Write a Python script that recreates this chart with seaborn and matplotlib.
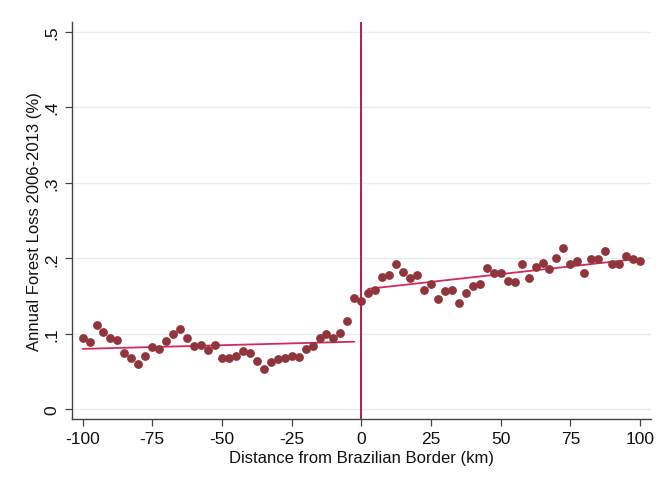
import numpy as np
import pandas as pd
import seaborn as sns
import matplotlib
matplotlib.use("Agg")
import matplotlib.pyplot as plt

# Binned mean forest loss by distance to the border (2.5 km bins)
dist_left = [-100, -97.5, -95, -92.5, -90, -87.5, -85, -82.5, -80, -77.5,
             -75, -72.5, -70, -67.5, -65, -62.5, -60, -57.5, -55, -52.5,
             -50, -47.5, -45, -42.5, -40, -37.5, -35, -32.5, -30, -27.5,
             -25, -22.5, -20, -17.5, -15, -12.5, -10, -7.5, -5, -2.5]
loss_left = [0.094, 0.089, 0.111, 0.103, 0.094, 0.092, 0.074, 0.068, 0.060, 0.071,
             0.083, 0.080, 0.091, 0.100, 0.106, 0.094, 0.084, 0.085, 0.079, 0.085,
             0.068, 0.068, 0.070, 0.077, 0.075, 0.064, 0.053, 0.063, 0.066, 0.068,
             0.070, 0.069, 0.080, 0.084, 0.094, 0.100, 0.095, 0.101, 0.117, 0.148]

dist_right = [0, 2.5, 5, 7.5, 10, 12.5, 15, 17.5, 20, 22.5,
              25, 27.5, 30, 32.5, 35, 37.5, 40, 42.5, 45, 47.5,
              50, 52.5, 55, 57.5, 60, 62.5, 65, 67.5, 70, 72.5,
              75, 77.5, 80, 82.5, 85, 87.5, 90, 92.5, 95, 97.5, 100]
loss_right = [0.143, 0.154, 0.158, 0.175, 0.178, 0.193, 0.182, 0.174, 0.178, 0.158,
              0.166, 0.146, 0.157, 0.158, 0.141, 0.154, 0.163, 0.166, 0.187, 0.181,
              0.180, 0.170, 0.168, 0.192, 0.174, 0.188, 0.194, 0.186, 0.201, 0.213,
              0.192, 0.197, 0.181, 0.199, 0.199, 0.209, 0.192, 0.192, 0.203, 0.199, 0.196]

# Linear fits on each side of the border (endpoints)
fit_left_x = [-100, -2.5]
fit_left_y = [0.0800, 0.0895]
fit_right_x = [2.5, 100]
fit_right_y = [0.1595, 0.1995]

x_ticks = [-100, -75, -50, -25, 0, 25, 50, 75, 100]
y_ticks = [0, 0.1, 0.2, 0.3, 0.4, 0.5]
y_tick_labels = ["0", ".1", ".2", ".3", ".4", ".5"]

sns.set_theme(style="white")
plt.rcParams["font.family"] = ["Liberation Sans", "DejaVu Sans"]

point_color = "#8f353b"
fit_color = "#d42a5b"
border_color = "#b81c45"

df = pd.DataFrame({
    "dist": dist_left + dist_right,
    "loss": loss_left + loss_right,
})
fits = pd.DataFrame({
    "dist": fit_left_x + fit_right_x,
    "loss": fit_left_y + fit_right_y,
    "side": ["left", "left", "right", "right"],
})

fig = plt.figure(figsize=(6.63, 4.85), dpi=100)
ax = fig.add_axes([0.109, 0.133, 0.8724, 0.8206])

for y in y_ticks:
    ax.axhline(y, color="#e6edf0", lw=1.0, zorder=0)

sns.lineplot(data=fits, x="dist", y="loss", units="side", estimator=None,
             color=fit_color, lw=1.3, ax=ax, zorder=2)
sns.scatterplot(data=df, x="dist", y="loss", color=point_color, s=40,
                linewidth=0, ax=ax, zorder=3)
ax.axvline(0, color=border_color, lw=1.4, zorder=4)

ax.set_xlim(-103.7, 103.8)
ax.set_ylim(-0.0135, 0.5135)
ax.set_xticks(x_ticks)
ax.set_xticklabels([str(t) for t in x_ticks])
ax.set_yticks(y_ticks)
ax.set_yticklabels(y_tick_labels, rotation=90, va="center")

ax.tick_params(axis="both", which="major", length=5, width=0.9, color="#444444",
               labelsize=12.5, labelcolor="#111111", direction="out", pad=3,
               bottom=True, left=True)
ax.tick_params(axis="y", pad=4)

for side in ["top", "right"]:
    ax.spines[side].set_visible(False)
for side in ["left", "bottom"]:
    ax.spines[side].set_color("#444444")
    ax.spines[side].set_linewidth(1.0)

ax.set_xlabel("Distance from Brazilian Border (km)", fontsize=12, color="#111111", labelpad=3)
ax.set_ylabel("Annual Forest Loss 2006-2013 (%)", fontsize=12, color="#111111", labelpad=2)

fig.savefig("out.png", dpi=100, facecolor="white")
